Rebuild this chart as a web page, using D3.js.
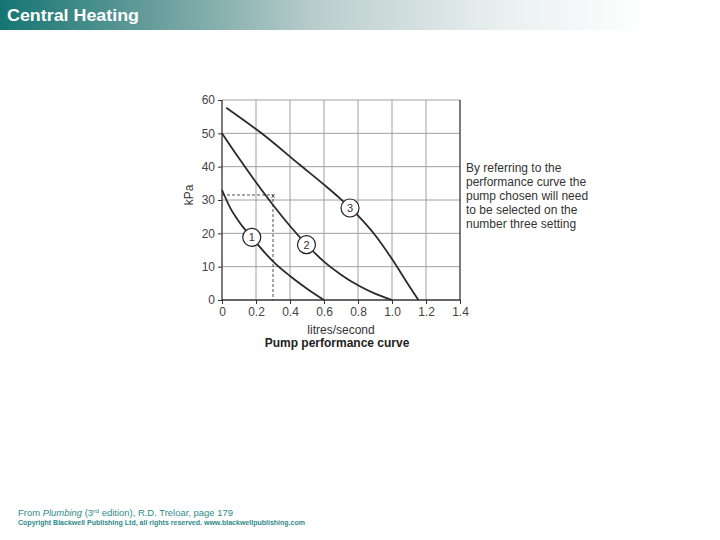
<!DOCTYPE html>
<html>
<head>
<meta charset="utf-8">
<script src="https://cdn.jsdelivr.net/npm/d3@7"></script>
<style>
  body { margin: 0; background: #fff; }
  svg { display: block; font-family: "Liberation Sans", Arial, sans-serif; }
</style>
</head>
<body>
<svg id="chart" width="720" height="540"></svg>
<script>
// pump curves (litres/second, kPa)
const curve1 = [[0, 33], [0.05, 27.5], [0.1, 23.5], [0.175, 18.8], [0.25, 14.3], [0.3, 11.6], [0.4, 7.2], [0.5, 3.4], [0.6, 0]];
const curve2 = [[0, 50], [0.1, 42.5], [0.2, 35.3], [0.3, 28.5], [0.4, 22.2], [0.5, 16.5], [0.6, 11.5], [0.7, 7.6], [0.8, 4.4], [0.9, 1.9], [1.0, 0]];
const curve3 = [[0.025, 57.7], [0.233, 50], [0.459, 40.5], [0.6, 34.6], [0.7, 30.2], [0.8, 25.3], [0.9, 19.5], [1.0, 12.3], [1.1, 4.3], [1.155, 0]];
const curves = [curve1, curve2, curve3];
const curveLabels = [
  { name: '1', x: 0.175, y: 18.8 },
  { name: '2', x: 0.497, y: 16.6 },
  { name: '3', x: 0.753, y: 27.6 }
];
const duty = { x: 0.3, y: 31.5 };
const xTicks = [0, 0.2, 0.4, 0.6, 0.8, 1.0, 1.2, 1.4];
const yTicks = [0, 10, 20, 30, 40, 50, 60];
const noteLines = [
  'By referring to the',
  'performance curve the',
  'pump chosen will need',
  'to be selected on the',
  'number three setting'
];

const svg = d3.select('#chart');

// title bar
const grad = svg.append('defs').append('linearGradient')
  .attr('id', 'bar').attr('x1', '0%').attr('x2', '100%');
grad.append('stop').attr('offset', '0%').attr('stop-color', '#157573');
grad.append('stop').attr('offset', '22%').attr('stop-color', '#6a9f9d');
grad.append('stop').attr('offset', '45%').attr('stop-color', '#bccfce');
grad.append('stop').attr('offset', '70%').attr('stop-color', '#eaf0f0');
grad.append('stop').attr('offset', '90%').attr('stop-color', '#ffffff');
svg.append('rect').attr('x', 0).attr('y', 0).attr('width', 720).attr('height', 30)
  .attr('fill', 'url(#bar)');
svg.append('text').attr('x', 7).attr('y', 21)
  .attr('fill', '#fff').attr('font-size', 17).attr('font-weight', 'bold')
  .attr('textLength', 132).attr('lengthAdjust', 'spacingAndGlyphs')
  .text('Central Heating');

const x = d3.scaleLinear().domain([0, 1.4]).range([222, 460]);
const y = d3.scaleLinear().domain([0, 60]).range([300, 100]);

// grid
svg.append('g').selectAll('line').data(xTicks.slice(1, -1)).enter().append('line')
  .attr('x1', d => x(d)).attr('x2', d => x(d)).attr('y1', y(0)).attr('y2', y(60))
  .attr('stroke', '#a0a0a0').attr('stroke-width', 1);
svg.append('g').selectAll('line').data(yTicks.slice(1)).enter().append('line')
  .attr('x1', x(0)).attr('x2', x(1.4)).attr('y1', d => y(d)).attr('y2', d => y(d))
  .attr('stroke', '#a0a0a0').attr('stroke-width', 1);

// axes
const xAxis = svg.append('g').attr('transform', `translate(0,${y(0)})`)
  .call(d3.axisBottom(x).tickValues(xTicks).tickSize(4).tickPadding(3)
    .tickFormat(d => d === 0 ? '0' : d.toFixed(1)));
const yAxis = svg.append('g').attr('transform', `translate(${x(0)},0)`)
  .call(d3.axisLeft(y).tickValues(yTicks).tickSize(4).tickPadding(3));
[xAxis, yAxis].forEach(a => {
  a.select('.domain').remove();
  a.selectAll('line').attr('stroke', '#333');
  a.selectAll('text').attr('fill', '#444').attr('font-size', 12)
    .attr('font-family', '"Liberation Sans", Arial, sans-serif');
});
svg.append('line').attr('x1', x(0)).attr('x2', x(0)).attr('y1', y(0)).attr('y2', y(60))
  .attr('stroke', '#333').attr('stroke-width', 1.3);
svg.append('line').attr('x1', x(1.4)).attr('x2', x(1.4)).attr('y1', y(0)).attr('y2', y(60))
  .attr('stroke', '#333').attr('stroke-width', 1.3);
svg.append('line').attr('x1', x(0)).attr('x2', x(1.4)).attr('y1', y(0)).attr('y2', y(0))
  .attr('stroke', '#333').attr('stroke-width', 1.3);

// duty point
svg.append('path')
  .attr('d', `M${x(0)},${y(duty.y)}H${x(duty.x)}V${y(0)}`)
  .attr('fill', 'none').attr('stroke', '#222').attr('stroke-width', 0.8)
  .attr('stroke-dasharray', '3,2');
svg.append('text').attr('x', x(duty.x)).attr('y', y(duty.y) + 2.5)
  .attr('text-anchor', 'middle').attr('font-size', 8).attr('fill', '#333').text('x');

// curves
const line = d3.line().x(d => x(d[0])).y(d => y(d[1])).curve(d3.curveMonotoneX);
svg.append('g').selectAll('path').data(curves).enter().append('path')
  .attr('d', line).attr('fill', 'none').attr('stroke', '#2a2a2a').attr('stroke-width', 1.8);

const lbl = svg.append('g').selectAll('g').data(curveLabels).enter().append('g')
  .attr('transform', d => `translate(${x(d.x)},${y(d.y)})`);
lbl.append('circle').attr('r', 9).attr('fill', '#fff').attr('stroke', '#222').attr('stroke-width', 1.2);
lbl.append('text').attr('y', 4).attr('text-anchor', 'middle').attr('font-size', 11)
  .attr('fill', '#333').text(d => d.name);

// axis titles
svg.append('text').attr('transform', 'translate(193,195) rotate(-90)')
  .attr('text-anchor', 'middle').attr('font-size', 12).attr('fill', '#333').text('kPa');
svg.append('text').attr('x', 341).attr('y', 334).attr('text-anchor', 'middle')
  .attr('font-size', 12).attr('fill', '#333').text('litres/second');
svg.append('text').attr('x', 337).attr('y', 347).attr('text-anchor', 'middle')
  .attr('font-size', 12).attr('font-weight', 'bold').attr('fill', '#222')
  .text('Pump performance curve');

// note
svg.append('g').selectAll('text').data(noteLines).enter().append('text')
  .attr('x', 466).attr('y', (d, i) => 172 + i * 14)
  .attr('font-size', 12).attr('fill', '#333').text(d => d);

// footer
const f1 = svg.append('text').attr('x', 18).attr('y', 516).attr('font-size', 8.5)
  .attr('fill', '#2f8a8a')
  .attr('textLength', 215).attr('lengthAdjust', 'spacingAndGlyphs');
f1.append('tspan').text('From ');
f1.append('tspan').attr('font-style', 'italic').text('Plumbing');
f1.append('tspan').text(' (3');
f1.append('tspan').attr('font-size', 6).attr('dy', -3).text('rd');
f1.append('tspan').attr('dy', 3).text(' edition), R.D. Treloar, page 179');
svg.append('text').attr('x', 18).attr('y', 525).attr('font-size', 6.5)
  .attr('font-weight', 'bold').attr('fill', '#2f8a8a')
  .attr('textLength', 287).attr('lengthAdjust', 'spacingAndGlyphs')
  .text('Copyright Blackwell Publishing Ltd, all rights reserved. www.blackwellpublishing.com');
</script>
</body>
</html>
